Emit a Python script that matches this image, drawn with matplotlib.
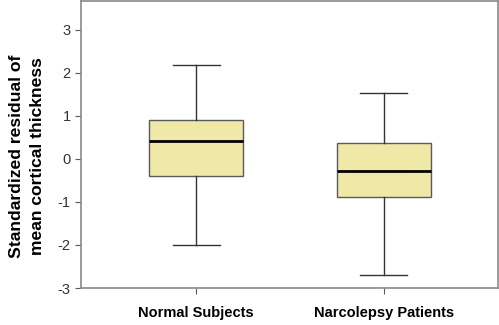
import matplotlib.pyplot as plt

# box statistics
groups = ["Normal Subjects", "Narcolepsy Patients"]
medians = [0.42, -0.27]
q1 = [-0.40, -0.88]
q3 = [0.91, 0.38]
whisker_low = [-2.00, -2.70]
whisker_high = [2.19, 1.52]

plt.rcParams['font.family'] = ['Liberation Sans', 'DejaVu Sans']

stats = []
for i in range(len(groups)):
    stats.append({
        "label": groups[i],
        "med": medians[i],
        "q1": q1[i],
        "q3": q3[i],
        "whislo": whisker_low[i],
        "whishi": whisker_high[i],
        "fliers": [],
    })

fig = plt.figure(figsize=(4.99, 3.25), dpi=100)
ax = fig.add_axes([0.1623, 0.1138, 0.8357, 0.8832])

edge = "#5a5a5a"
ax.bxp(
    stats,
    positions=[1, 2],
    widths=0.5,
    patch_artist=True,
    showfliers=False,
    boxprops=dict(facecolor="#efe8a6", edgecolor=edge, linewidth=1.0),
    medianprops=dict(color="black", linewidth=2.0),
    whiskerprops=dict(color="#333333", linewidth=1.0),
    capprops=dict(color="#333333", linewidth=1.0),
    capwidths=0.25,
)

ax.set_xlim(0.385, 2.61)
ax.set_ylim(-3, 3.67)
ax.set_yticks([-3, -2, -1, 0, 1, 2, 3])
ax.set_yticklabels(["-3", "-2", "-1", "0", "1", "2", "3"])
ax.set_xticks([1, 2])
ax.set_xticklabels(groups, fontweight="bold", fontsize=10.5)
ax.tick_params(axis="y", labelsize=10.5, labelcolor="#333333", color=edge, length=4)
ax.tick_params(axis="x", color=edge, length=4, pad=9)

for s in ax.spines.values():
    s.set_color("#8a8a8a")
    s.set_linewidth(1.2)

ax.set_ylabel("Standardized residual of\nmean cortical thickness",
              fontweight="bold", fontsize=12.6, linespacing=1.5)
ax.yaxis.set_label_coords(-0.087, 0.46)

fig.savefig("out.png", dpi=100)
